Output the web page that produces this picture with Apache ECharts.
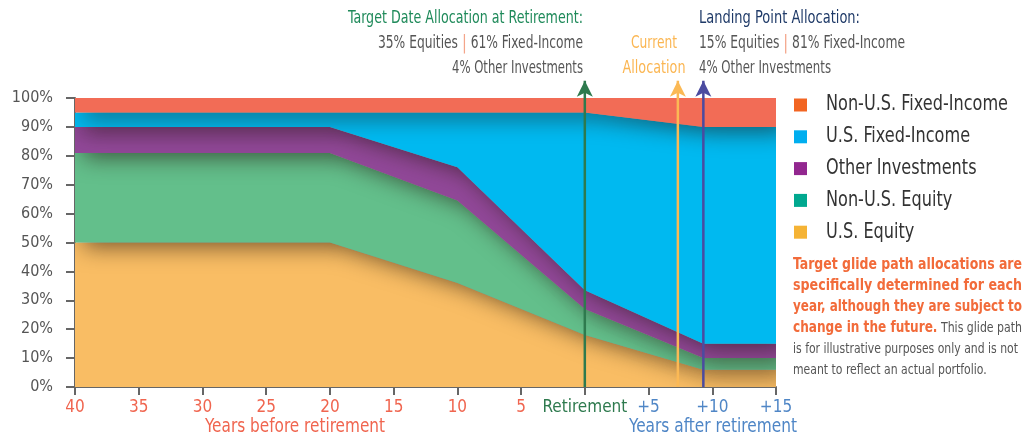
<!DOCTYPE html>
<html>
<head>
<meta charset="utf-8">
<script src="https://cdn.jsdelivr.net/npm/echarts@6/dist/echarts.min.js"></script>
<style>
  html, body { margin: 0; padding: 0; background: #ffffff; }
  #chart { width: 1033px; height: 437px; }
</style>
</head>
<body>
<div id="chart"></div>
<script>
// Glide path: years relative to retirement (negative = before) and allocation shares in %
const years        = [-40, -20, -10, 0, 9.3, 15];
const usEquity     = [50, 50, 36, 18, 6, 6];
const nonUsEquity  = [31, 31, 28.5, 9, 4, 4];
const otherInv     = [9, 9, 11.5, 6.5, 5, 5];
const usFixed      = [5, 5, 19, 61.5, 75, 75];
const nonUsFixed   = [5, 5, 5, 5, 10, 10];

// Bottom-to-top band order
const seriesNames  = ['U.S. Equity', 'Non-U.S. Equity', 'Other Investments', 'U.S. Fixed-Income', 'Non-U.S. Fixed-Income'];
const legendOrder  = ['Non-U.S. Fixed-Income', 'U.S. Fixed-Income', 'Other Investments', 'Non-U.S. Equity', 'U.S. Equity'];
const yTicks       = [0, 10, 20, 30, 40, 50, 60, 70, 80, 90, 100];

// Marker years for the arrows
const retirementYear = 0;
const currentYear    = 7.3;
const landingYear    = 9.3;
const arrowTop       = 106;

const FONT = "'Liberation Sans Narrow', 'DejaVu Sans Condensed', 'Liberation Sans', sans-serif";

const areaColors   = ['#f9bd64', '#63bf8b', '#914898', '#00b9f0', '#f26c56'];
const legendColors = {
  'Non-U.S. Fixed-Income': '#f26522',
  'U.S. Fixed-Income': '#00aeef',
  'Other Investments': '#92278f',
  'Non-U.S. Equity': '#00a88f',
  'U.S. Equity': '#f5b335'
};
const seriesValues = [usEquity, nonUsEquity, otherInv, usFixed, nonUsFixed];

// Cumulative lower / upper edges for each band
const lowers = [], uppers = [];
seriesValues.forEach((vals, i) => {
  const lo = i === 0 ? years.map(() => 0) : uppers[i - 1];
  lowers.push(lo);
  uppers.push(vals.map((v, k) => lo[k] + v));
});

function bandRenderer(i) {
  return function (params, api) {
    if (params.dataIndex !== 0) return null;
    const pts = [];
    for (let k = 0; k < years.length; k++) pts.push(api.coord([years[k], uppers[i][k]]));
    for (let k = years.length - 1; k >= 0; k--) pts.push(api.coord([years[k], lowers[i][k]]));
    return {
      type: 'polygon',
      shape: { points: pts },
      silent: true,
      style: {
        fill: areaColors[i],
        shadowColor: 'rgba(35, 20, 10, 0.58)',
        shadowBlur: 22,
        shadowOffsetX: 9,
        shadowOffsetY: 5
      }
    };
  };
}

const bandSeries = seriesNames.map((name, i) => ({
  name: name,
  type: 'custom',
  data: years.map((y, k) => [y, lowers[i][k], uppers[i][k]]),
  encode: { x: 0, y: [1, 2] },
  renderItem: bandRenderer(i),
  clip: true,
  silent: true,
  z: 2
}));

function arrowSeries(x, color) {
  return {
    type: 'line',
    data: [
      { value: [x, 0], symbol: 'none' },
      { value: [x, arrowTop], symbol: 'arrow', symbolSize: [12, 16] }
    ],
    clip: false,
    showSymbol: true,
    lineStyle: { color: color, width: 2.5 },
    itemStyle: { color: color },
    silent: true,
    z: 5
  };
}

// Text measuring, used to set condensed widths for the annotation text
const mctx = document.createElement('canvas').getContext('2d');
function textWidth(segs) {
  let w = 0;
  segs.forEach(s => { mctx.font = s[1]; w += mctx.measureText(s[0]).width; });
  return w;
}
function fitScale(segs, width) { return width / textWidth(segs); }

// Legend drawn as swatch + label rows
const legendTop = 105, legendStep = 31.8;
const legendFont = '21px ' + FONT;
const legendScale = fitScale([['Non-U.S. Fixed-Income', legendFont]], 182);
const legendGraphics = [];
legendOrder.forEach((n, i) => {
  const cy = legendTop + i * legendStep;
  legendGraphics.push({
    type: 'rect', x: 794, y: cy - 6.5, silent: true,
    shape: { width: 13, height: 13 }, style: { fill: legendColors[n] }
  });
  legendGraphics.push({
    type: 'text', x: 826, y: cy, scaleX: legendScale, silent: true,
    style: { text: n, fill: '#333333', font: legendFont, verticalAlign: 'middle' }
  });
});

// Note below the legend, one element per line, each condensed to the column width
const boldFont = 'bold 16px ' + FONT;
const noteFont = '14.5px ' + FONT;
const noteLines = [
  { segs: [['Target glide path allocations are', boldFont]], w: 229 },
  { segs: [['specifically determined for each', boldFont]], w: 229 },
  { segs: [['year, although they are subject to', boldFont]], w: 229 },
  { segs: [['change in the future.', boldFont], [' This glide path', noteFont]], w: 229 },
  { segs: [['is for illustrative purposes only and is not', noteFont]], w: 225 },
  { segs: [['meant to reflect an actual portfolio.', noteFont]], w: null }
];
const noteGraphics = [];
let lastScale = 1;
noteLines.forEach((ln, i) => {
  const s = ln.w ? fitScale(ln.segs, ln.w) : lastScale;
  lastScale = s;
  const txt = ln.segs.map(sg => (sg[1] === boldFont ? '{b|' : '{n|') + sg[0] + '}').join('');
  noteGraphics.push({
    type: 'text', x: 793, y: 265 + i * 21, scaleX: s, silent: true,
    style: {
      text: txt, verticalAlign: 'middle',
      rich: {
        b: { fill: '#f26b3a', font: boldFont, verticalAlign: 'middle' },
        n: { fill: '#555555', font: noteFont, verticalAlign: 'middle' }
      }
    }
  });
});

// Header annotations above the plot
const titleFont = '18px ' + FONT;
const bodyFont  = '17px ' + FONT;
const pipeFont  = '20px ' + FONT;
function headerLine(x, y, segs, width, align) {
  const rich = { g: { fill: '#555555', font: bodyFont }, p: { fill: '#f4a58a', font: pipeFont } };
  const txt = segs.map(sg => (sg[1] === pipeFont ? '{p|' : '{g|') + sg[0] + '}').join('');
  return {
    type: 'text', x: x, y: y, scaleX: fitScale(segs, width), silent: true,
    style: { text: txt, align: align, verticalAlign: 'middle', rich: rich }
  };
}
function plainLine(x, y, text, font, color, width, align) {
  return {
    type: 'text', x: x, y: y, scaleX: fitScale([[text, font]], width), silent: true,
    style: { text: text, fill: color, font: font, align: align, verticalAlign: 'middle' }
  };
}
const headerGraphics = [
  plainLine(583, 18, 'Target Date Allocation at Retirement:', titleFont, '#1f8a5a', 235, 'right'),
  headerLine(583, 44, [['35% Equities ', bodyFont], ['|', pipeFont], [' 61% Fixed-Income', bodyFont]], 205, 'right'),
  plainLine(583, 69, '4% Other Investments', bodyFont, '#555555', 131, 'right'),
  plainLine(654, 44, 'Current', bodyFont, '#fbb652', 46, 'center'),
  plainLine(654, 69, 'Allocation', bodyFont, '#fbb652', 63, 'center'),
  plainLine(699, 18, 'Landing Point Allocation:', titleFont, '#1f3a68', 161, 'left'),
  headerLine(699, 44, [['15% Equities ', bodyFont], ['|', pipeFont], [' 81% Fixed-Income', bodyFont]], 206, 'left'),
  plainLine(699, 69, '4% Other Investments', bodyFont, '#555555', 132, 'left'),
  plainLine(205, 427, 'Years before retirement', '19px ' + FONT, '#f0654f', 180, 'left'),
  plainLine(629, 427, 'Years after retirement', '19px ' + FONT, '#4f86c6', 168, 'left')
];

const chart = echarts.init(document.getElementById('chart'), null, { renderer: 'canvas' });

const option = {
  animation: false,
  grid: { left: 75, right: 257, top: 98, bottom: 50, containLabel: false },
  xAxis: {
    type: 'value',
    min: -40,
    max: 15,
    interval: 5,
    splitLine: { show: false },
    axisLine: { show: true, onZero: false, lineStyle: { color: '#666666', width: 2 } },
    axisTick: { show: true, length: 8, lineStyle: { color: '#666666', width: 2 } },
    axisLabel: {
      margin: 12,
      fontFamily: FONT,
      fontSize: 17,
      formatter: function (v) {
        if (v < 0) return '{b|' + (-v) + '}';
        if (v === 0) return '{r|Retirement}';
        return '{a|+' + v + '}';
      },
      rich: {
        b: { color: '#f0654f', fontFamily: FONT, fontSize: 17 },
        r: { color: '#2e7a4e', fontFamily: FONT, fontSize: 17 },
        a: { color: '#4f86c6', fontFamily: FONT, fontSize: 17 }
      }
    }
  },
  yAxis: {
    type: 'value',
    min: yTicks[0],
    max: yTicks[yTicks.length - 1],
    interval: 10,
    splitLine: { show: false },
    axisLine: { show: true, onZero: false, lineStyle: { color: '#666666', width: 2 } },
    axisTick: { show: true, length: 9, lineStyle: { color: '#666666', width: 2 } },
    axisLabel: {
      margin: 22,
      fontFamily: FONT,
      fontSize: 16,
      color: '#555555',
      formatter: '{value}%'
    }
  },
  graphic: legendGraphics.concat(noteGraphics, headerGraphics),
  series: bandSeries.concat([
    arrowSeries(retirementYear, '#2e7a4e'),
    arrowSeries(currentYear, '#fbb955'),
    arrowSeries(landingYear, '#4b4ba0')
  ])
};

chart.setOption(option);
</script>
</body>
</html>
